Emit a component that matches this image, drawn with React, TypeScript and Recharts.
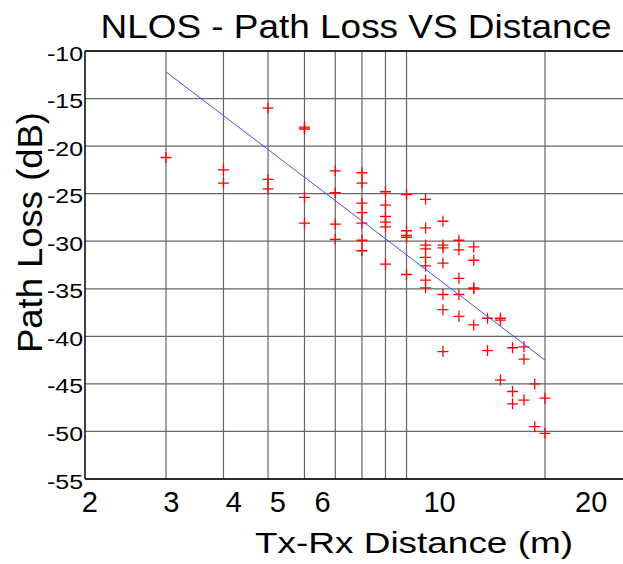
import React from "react";
import { CartesianGrid, ComposedChart, ReferenceLine, Scatter, XAxis, YAxis } from "recharts";

// Measured NLOS path loss, grouped by Tx-Rx distance (m)
const measuredDistances = [3, 4, 5, 6, 7, 8, 9, 10, 11, 12, 13, 14, 15, 16, 17, 18, 19, 20];
const measuredLoss = [
  [-21.2],
  [-22.5, -23.9],
  [-16.0, -23.5, -24.5],
  [-18.0, -18.2, -25.4, -28.1],
  [-22.6, -24.9, -28.2, -29.8],
  [-22.8, -23.9, -26.0, -27.0, -28.1, -29.9, -31.0],
  [-24.8, -26.2, -27.4, -28.0, -28.5, -32.4],
  [-25.1, -28.9, -29.4, -29.6, -33.5],
  [-25.6, -28.6, -30.4, -30.8, -31.7, -32.6, -34.1, -34.9],
  [-27.9, -30.4, -30.7, -32.3, -35.6, -37.2, -41.6],
  [-29.9, -30.9, -33.9, -35.6, -37.9],
  [-30.6, -32.0, -34.9, -35.0, -38.8],
  [-38.1, -41.5],
  [-38.1, -38.3, -44.6],
  [-41.2, -45.8, -47.1],
  [-41.1, -42.4, -46.7],
  [-45.0, -49.5],
  [-46.5, -50.2],
];

// least-squares fit, end points as drawn
const fitDistances = [3, 20];
const fitLoss = [-12.2, -42.5];

const gridDistances = [3, 4, 5, 6, 7, 8, 9, 10, 20];
const lossTicks = [-55, -50, -45, -40, -35, -30, -25, -20, -15, -10];
// the figure's distance labels sit a little off their grid lines
const distanceLabels = ["2", "3", "4", "5", "6", "10", "20"];
const distanceLabelAt = [2.05, 3.08, 4.21, 5.25, 6.57, 11.8, 25.2];

const points = measuredDistances.flatMap((d, i) => measuredLoss[i].map((loss) => ({ x: d, y: loss })));
const fitPoints = fitDistances.map((d, i) => ({ x: d, y: fitLoss[i] }));

const FONT = "'Liberation Sans', Arial, Helvetica, sans-serif";

const Plus = (props: any) => {
  const { cx, cy } = props;
  if (cx == null || cy == null) return <g />;
  return (
    <path
      d={`M${cx - 5.5},${cy}H${cx + 5.5}M${cx},${cy - 5.5}V${cy + 5.5}`}
      stroke="#ff0000"
      strokeWidth={1.3}
      fill="none"
    />
  );
};

const XTick = (props: any) => {
  const { x, y, index } = props;
  return (
    <text x={x} y={y + 33} textAnchor="middle" fontSize={29} fontFamily={FONT} fill="#000">
      {distanceLabels[index]}
    </text>
  );
};

const YTick = (props: any) => {
  const { x, y, payload } = props;
  return (
    <text
      x={x - 2}
      y={y + 9.5}
      textAnchor="end"
      fontSize={20.5}
      fontFamily={FONT}
      fill="#000"
      textLength={36}
      lengthAdjust="spacingAndGlyphs"
    >
      {payload.value}
    </text>
  );
};

export default function App() {
  return (
    <div
      style={{
        position: "absolute",
        left: 0,
        top: 0,
        width: 623,
        height: 564,
        overflow: "hidden",
        background: "#fff",
      }}
    >
      <ComposedChart width={640} height={564} margin={{ top: 51, right: 14, bottom: 0, left: 0 }}>
        <CartesianGrid vertical={false} stroke="#666" strokeWidth={1.2} />
        {gridDistances.map((d) => (
          <ReferenceLine key={d} x={d} stroke="#666" strokeWidth={1.2} />
        ))}
        <ReferenceLine y={-10} stroke="#000" strokeWidth={1.5} />
        <XAxis
          type="number"
          dataKey="x"
          scale="log"
          domain={[2, 30]}
          ticks={distanceLabelAt}
          interval={0}
          allowDataOverflow
          height={85}
          tickSize={0}
          tickMargin={0}
          axisLine={{ stroke: "#000", strokeWidth: 1.5 }}
          tick={<XTick />}
        />
        <YAxis
          type="number"
          dataKey="y"
          domain={[-55, -10]}
          ticks={lossTicks}
          interval={0}
          allowDataOverflow
          width={85}
          tickSize={0}
          tickMargin={0}
          axisLine={{ stroke: "#000", strokeWidth: 1.5 }}
          tick={<YTick />}
        />
        <Scatter data={points} shape={<Plus />} isAnimationActive={false} />
        <Scatter
          data={fitPoints}
          line={{ stroke: "#4a4aff", strokeWidth: 1 }}
          shape={() => <g />}
          isAnimationActive={false}
        />
      </ComposedChart>
      <svg
        width={623}
        height={564}
        style={{ position: "absolute", left: 0, top: 0, pointerEvents: "none" }}
        fontFamily={FONT}
      >
        <text x={356} y={37.5} textAnchor="middle" fontSize={33.5} textLength={511} lengthAdjust="spacingAndGlyphs">
          NLOS - Path Loss VS Distance
        </text>
        <text x={414} y={553} textAnchor="middle" fontSize={30} textLength={318} lengthAdjust="spacingAndGlyphs">
          Tx-Rx Distance (m)
        </text>
        <text
          transform="translate(41.7,232.5) rotate(-90)"
          textAnchor="middle"
          fontSize={35}
          textLength={241}
          lengthAdjust="spacingAndGlyphs"
        >
          Path Loss (dB)
        </text>
      </svg>
    </div>
  );
}
